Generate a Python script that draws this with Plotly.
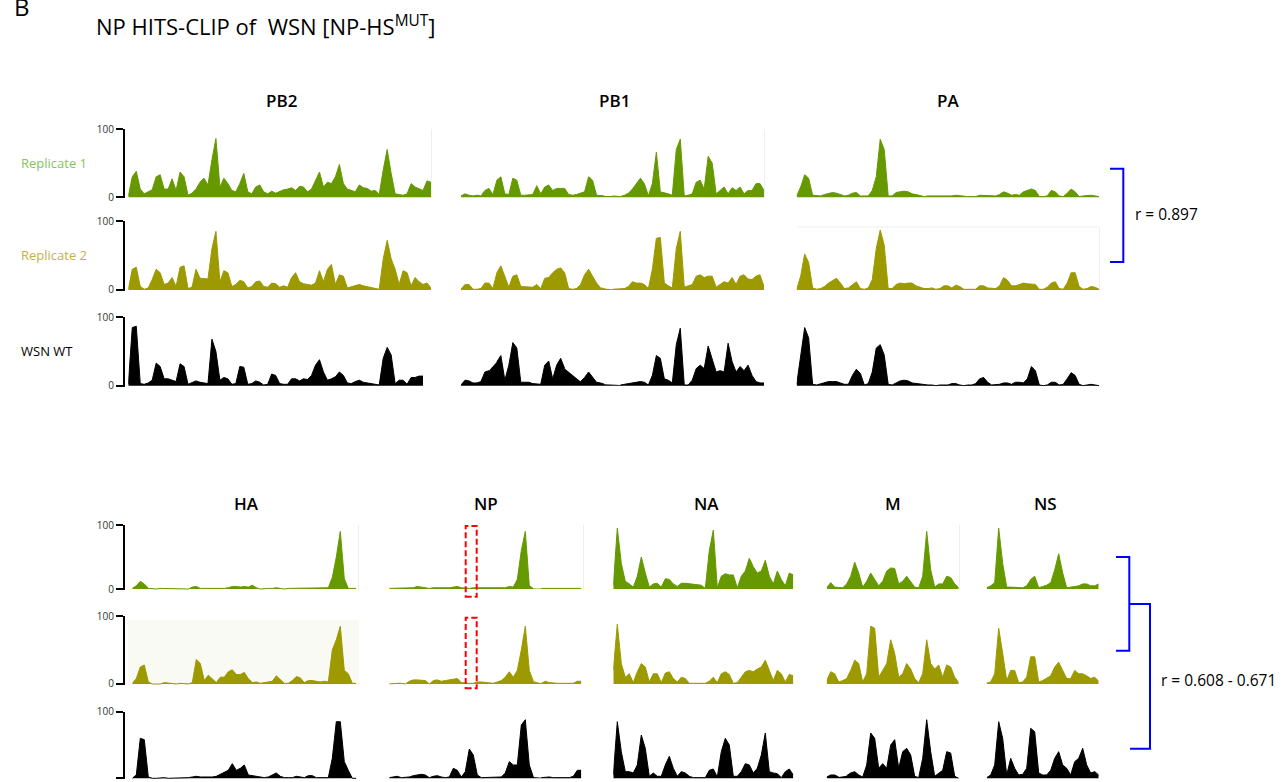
import plotly.graph_objects as go

W, H = 1283, 782

# ---------------- data (coverage, % of max; None = no reads) ----------------
segments_top = ["PB2", "PB1", "PA"]
segments_bottom = ["HA", "NP", "NA", "M", "NS"]
row_labels = ["Replicate 1", "Replicate 2", "WSN WT"]
r_top = "r = 0.897"
r_bottom = "r = 0.608 - 0.671"

PB2_rep1 = [2, 30, 38, 12, 5, 8, 11, 30, 33, 12, 12, 27, 10, 37, 30, 3, 6, 12, 22, 28,
            18, 55, 86, 15, 28, 20, 10, 8, 20, 35, 8, 5, 15, 18, 8, 5, 9, 6, 9, 11,
            12, 14, 10, 16, 15, 8, 12, 25, 37, 15, 22, 20, 30, 48, 20, 12, 10, 8, 18, 14,
            13, 9, 10, 4, 40, 70, 35, 5, 4, 3, 5, 20, 15, 12, 10, 24, 22]
PB2_rep2 = [1, 30, 33, 5, 1, 3, 15, 30, 25, 8, 10, 18, 5, 33, 35, 2, 4, 30, 17, 17,
            16, 60, 85, 12, 28, 25, 5, 8, 14, 12, 3, 5, 12, 13, 5, 4, 10, 9, 4, 6,
            4, 18, 25, 12, 9, 8, 7, 10, 28, 12, 30, 37, 8, 22, 20, 3, 5, 7, 8, 6,
            5, 4, 3, 1, 45, 72, 45, 30, 8, 28, 25, 6, 18, 12, 8, 10, 3]
PB2_wt = [2, 85, 87, 3, 2, 4, 8, 33, 28, 10, 10, 8, 6, 32, 28, 2, 4, 7, 5, 4,
          3, 68, 50, 8, 12, 10, 2, 3, 28, 27, 2, 3, 7, 5, 1, 2, 17, 15, 3, 2,
          2, 10, 10, 7, 10, 9, 15, 30, 38, 20, 8, 10, 13, 20, 15, 4, 3, 6, 8, 5,
          4, 3, 2, 1, 40, 56, 45, 3, 8, 8, 2, 12, 12, 14, 14, None, None]

PB1_rep1 = [2, 5, 3, 2, 3, 2, 10, 13, 4, 25, 30, 5, 4, 28, 25, 3, 3, 3, 4, 17,
            5, 15, 18, 10, 13, 13, 13, 4, 3, 4, 6, 8, 30, 25, 3, 2, 2, None, 2, 2,
            1, 3, 6, 12, 20, 28, 20, 2, 20, 66, 8, 7, 5, 3, 70, 85, 2, 3, 5, 22,
            25, 12, 60, 50, 5, 10, 15, 5, 14, 10, 15, 5, 10, 10, 20, 20, 10]
PB1_rep2 = [1, 8, 8, 1, 1, 2, 10, 10, 2, 25, 35, 18, 4, 20, 22, 5, 5, 4, 4, 8,
            2, 17, 18, 25, 30, 32, 25, 2, 1, 2, 8, 22, 30, 20, 10, 3, 2, None, 1, 1,
            1, 2, 5, 12, 10, 10, 8, 2, 30, 75, 76, 10, 6, 3, 60, 85, 4, 6, 8, 20,
            22, 18, 20, 20, 4, 8, 12, 10, 18, 8, 20, 22, 16, 15, 20, 22, 5]
PB1_wt = [1, 8, 7, 4, 4, 6, 20, 22, None, 35, 44, 8, 30, 63, 55, 5, 5, 5, 3, 2,
          2, 30, 36, 10, 30, 40, 25, None, None, None, 6, 12, 20, 12, 5, 4, 2, None, None, None,
          1, 2, 3, 4, 4, 6, 5, 1, 15, 44, 40, 10, 8, 4, 60, 84, 1, 1, 8, 25,
          30, 25, 58, 40, 20, 22, 20, 62, 35, 20, 28, 22, 30, 15, 6, 4, 4]

PA_rep1 = [2, 15, 33, 28, 3, 2, 2, 4, 6, 7, 6, 4, 2, 3, 6, 7, 2, 2, 2, 10,
           30, 85, 70, 2, 2, 7, 8, 9, 8, 5, 4, 2, 1, 2, 2, 1, 2, 1, 1, 2,
           3, 2, 1, 1, 1, 1, 3, 3, 2, 2, 2, 4, 8, 6, 3, 4, 3, 8, 10, 12,
           10, 1, 1, 2, 10, 8, 2, 1, 6, 12, 8, 1, 2, 3, 3, 2, 1]
PA_rep2 = [1, 20, 52, 40, 3, 1, 2, 5, 10, 14, 17, 10, 2, 3, 8, 12, 2, 1, 3, 15,
           60, 87, 65, 2, 2, 8, 10, 9, 10, 10, 6, 4, 2, 2, 3, 1, 2, 6, 6, 3,
           7, 5, 1, 1, 1, 1, 6, 6, 3, 3, 2, 6, 18, 14, 6, 6, 8, 10, 9, 8,
           8, 1, 1, 4, 10, 12, 2, 1, 10, 25, 25, 5, 1, 2, 5, 4, 1]
PA_wt = [2, 40, 85, 70, 2, 1, 3, 5, 6, 6, 6, 4, 2, 2, 15, 24, 18, 1, 3, 20,
         55, 60, 45, 2, 1, 4, 7, 8, 7, 4, 3, 2, 2, 1, 1, 0, 1, 1, 1, 3,
         3, 1, 0, 1, 1, 3, 10, 12, 5, 1, 1, 2, 4, 4, 2, 5, 5, 4, 10, 28,
         22, 1, 0, 1, 5, 5, 1, 2, 10, 19, 15, 2, 0, 1, 2, 1, 0]

HA_rep1 = [1, 5, 12, 8, 1, 0, 0, 1, 1, 0, 0, 1, 1, 1, 0, 3, 4, 1, 1, 1,
           1, 1, 0, 1, 2, 4, 4, 3, 4, 3, 6, 2, 0, 1, 1, 1, 2, 1, 0, 1,
           1, 2, 1, 1, 1, 1, 1, 1, 1, 2, 18, 50, 90, 16, 1, 1, 1]
HA_rep2 = [1, 8, 25, 28, 3, 0, 0, 0, 2, 1, 0, 0, 1, 0, 0, 2, 36, 30, 5, 13,
           8, 2, 10, 10, 18, 21, 14, 14, 17, 8, 2, 3, 1, 2, 3, 4, 12, 7, 1, 1,
           5, 11, 9, 2, 5, 5, 4, 3, 4, 3, 50, 65, 85, 20, 15, 1, 1]
HA_wt = [0, 5, 60, 58, 2, 0, 0, 1, 1, 0, 0, 1, 1, 1, 1, 2, 3, 2, 2, 1,
         2, 3, 6, 8, 12, 22, 12, 15, 20, 5, 4, 2, 1, 1, 2, 5, 8, 3, 1, 1,
         1, 3, 2, 1, 4, 4, 1, 1, 1, 1, 30, 85, 85, 25, 12, 0, 0]

NP_rep1 = [1, 1, 1, 1, 1, 1, 2, 4, 3, 1, 1, 2, 2, 1, 1, 2, 3, 4, 2, 1,
           1, 2, 2, 1, 1, 1, 1, 1, 1, 2, 4, 3, 15, 60, 90, 5, 1, None, 1, 1,
           1, 1, 1, 1, 1, 1, 1, 1, 1]
NP_rep2 = [0, 1, 1, 1, 0, 4, 6, 6, 6, 5, 0, 5, 6, 4, 5, 6, 7, 8, 2, 1,
           1, 1, 3, 3, 2, 1, 1, 3, 5, 10, 18, 10, 20, 50, 85, 20, 4, None, 1, 4,
           2, 1, 1, 1, 1, 1, 1, 4, 4]
NP_wt = [1, 2, 3, 1, 1, 2, 4, 5, 6, 5, 1, 3, 4, 2, 1, 2, 15, 12, 2, 10,
         44, 35, 5, 1, 1, 1, 1, 1, 2, 8, 25, 20, 20, 80, 88, 20, 2, None, 1, 2,
         2, 1, 1, 1, 1, 1, 3, 12, 12]

NA_rep1 = [5, 95, 40, 12, 8, 3, 20, 50, 25, 3, 8, 9, 3, 16, 15, 8, 4, 9, 9, 8,
           8, 7, 6, 1, 60, 92, 2, 20, 24, 22, 22, 2, 20, 28, 48, 35, 25, 28, 45, 20,
           8, 28, 15, 5, 25, 22]
NA_rep2 = [20, 88, 30, 10, 15, 2, 18, 30, 25, 3, 15, 15, 2, 16, 18, 8, 3, 10, 8, 1,
           1, 1, 1, 1, 4, 10, 2, 15, 18, 14, 1, 2, 10, 18, 20, 18, 22, 25, 35, 20,
           5, 20, 15, 3, 14, 12]
NA_wt = [5, 85, 40, 10, 10, 8, 20, 65, 45, 3, 8, 3, 3, 20, 33, 15, 3, 10, 8, 3,
         1, 1, 1, 1, 12, 14, 2, 40, 60, 50, 3, 3, 10, 22, 20, 8, 15, 35, 68, 10,
         8, 7, 1, 10, 14, 5]

M_rep1 = [2, 10, 3, 2, 2, 8, 20, 42, 25, 3, 12, 25, 15, 5, 12, 28, 33, 32, 8, 12,
          20, 12, 3, 2, 20, 90, 30, 3, 8, 8, 20, 18, 8, 2]
M_rep2 = [5, 18, 15, 3, 5, 8, 20, 35, 30, 3, 15, 85, 82, 10, 20, 30, 65, 45, 10, 15,
          30, 22, 8, 2, 15, 65, 30, 22, 28, 10, 28, 25, 10, 2]
M_wt = [2, 5, 5, 2, None, 4, 8, 10, 5, 2, 20, 68, 60, 15, 22, 15, 50, 58, 15, 40,
        45, 35, 3, 1, 30, 88, 40, 3, 8, 12, 40, 38, 3, 0]

NS_rep1 = [2, 5, 10, 95, 40, 3, 3, 3, 3, 2, 5, 15, 20, 2, 4, 6, 10, 30, 55, 25,
           2, 3, 4, 5, 8, 8, 5, 5, 8]
NS_rep2 = [1, 3, 15, 82, 45, 5, 20, 20, 2, 3, 10, 40, 40, 3, 5, 8, 12, 25, 32, 20,
           8, 8, 20, 15, 15, 12, 8, 10, 4]
NS_wt = [1, 5, 20, 85, 60, 5, 30, 15, 5, 6, 15, 75, 70, 8, 5, 5, 12, 30, 40, 20,
         15, 5, 25, 30, 45, 20, 8, 10, 5]

series = {
    "PB2": (PB2_rep1, PB2_rep2, PB2_wt),
    "PB1": (PB1_rep1, PB1_rep2, PB1_wt),
    "PA": (PA_rep1, PA_rep2, PA_wt),
    "HA": (HA_rep1, HA_rep2, HA_wt),
    "NP": (NP_rep1, NP_rep2, NP_wt),
    "NA": (NA_rep1, NA_rep2, NA_wt),
    "M": (M_rep1, M_rep2, M_wt),
    "NS": (NS_rep1, NS_rep2, NS_wt),
}

# ---------------- layout geometry (pixels) ----------------
col_px = {
    "PB2": (128.3, 431), "PB1": (461, 764), "PA": (796.7, 1099),
    "HA": (132.3, 356.3), "NP": (389.3, 581.3), "NA": (613.3, 793.3),
    "M": (826.7, 958.7), "NS": (986.7, 1098.7),
}
rows_top = [(198.3, 129), (291, 221), (386.7, 317.3)]
rows_bot = [(590, 525), (685, 616), (779.3, 711.7)]
fills = ["#669900", "#9c9a00", "#000000"]
label_colors = ["#86c45a", "#c3b04a", "#000000"]
FONT = "Open Sans, Noto Sans, sans-serif"
AXIS_X = 124


def px(x):
    return x / W


def py(y):
    return 1 - y / H


fig = go.Figure()
layout_axes = {}
k = 0
for segs, rows in [(segments_top, rows_top), (segments_bottom, rows_bot)]:
    for si, seg in enumerate(segs):
        for ri in range(3):
            k += 1
            sfx = "" if k == 1 else str(k)
            vals = series[seg][ri]
            fig.add_trace(go.Scatter(
                x=list(range(len(vals))), y=vals, mode="lines", fill="tozeroy",
                line=dict(color=fills[ri], width=1), fillcolor=fills[ri],
                connectgaps=False, hoverinfo="skip", showlegend=False,
                xaxis="x" + sfx, yaxis="y" + sfx))
            x0, x1 = col_px[seg]
            y0, y1 = rows[ri]
            layout_axes["xaxis" + sfx] = dict(
                domain=[px(x0), px(x1)], range=[0, len(vals) - 1],
                visible=False, anchor="y" + sfx, fixedrange=True)
            ya = dict(domain=[py(y0), py(y1)], range=[-1.5, 100], fixedrange=True,
                      showgrid=False, zeroline=False)
            if si == 0:
                ya.update(visible=True, anchor="free", position=px(AXIS_X),
                          showline=True, linecolor="black", linewidth=2,
                          ticks="outside", tickvals=[0, 100], ticklen=7,
                          tickwidth=2, tickcolor="black",
                          tickfont=dict(family=FONT, size=10, color="#333333"))
            else:
                ya.update(visible=False, anchor="x" + sfx)
            layout_axes["yaxis" + sfx] = ya

fig.update_layout(**layout_axes)

annotations = []


def ann(text, x, y, size, color="black", xanchor="center", weight=400):
    annotations.append(dict(text=text, x=px(x), y=py(y), xref="paper", yref="paper",
                            xanchor=xanchor, yanchor="middle", showarrow=False,
                            font=dict(family=FONT, size=size, color=color, weight=weight)))


ann("B", 12, 6, 24, xanchor="left")
ann("NP HITS-CLIP of  WSN [NP-HS<sup>MUT</sup>]", 94, 25, 22, xanchor="left")

title_pos = {"PB2": (281, 101), "PB1": (614, 101), "PA": (948, 101),
             "HA": (246, 503), "NP": (486, 503), "NA": (706, 503),
             "M": (893, 503), "NS": (1045, 503)}
for seg, (tx, ty) in title_pos.items():
    ann(seg, tx, ty, 17, weight=600)

for ri, (lab, ly) in enumerate(zip(row_labels, [163, 255, 351])):
    ann(lab, 19, ly, 13, color=label_colors[ri], xanchor="left")

ann(r_top, 1133, 214, 15.5, xanchor="left")
ann(r_bottom, 1159, 680, 15.5, xanchor="left")

shapes = []
BLUE = "#0000ff"


def path(points, color, width=2):
    d = "M " + " L ".join(f"{px(x):.5f},{py(y):.5f}" for x, y in points)
    shapes.append(dict(type="path", path=d, xref="paper", yref="paper",
                       line=dict(color=color, width=width)))


# correlation brackets
path([(1110, 168.7), (1123.3, 168.7), (1123.3, 262), (1110, 262)], BLUE)
path([(1116, 557), (1129.3, 557), (1129.3, 650.7), (1116, 650.7)], BLUE)
path([(1129.3, 604), (1150, 604), (1150, 748.7), (1130, 748.7)], BLUE)

# red dashed boxes (NP-HS mutated region)
for (ya_, yb_) in [(526, 596.7), (617.7, 688.3)]:
    shapes.append(dict(type="rect", xref="paper", yref="paper",
                       x0=px(465.7), x1=px(476.7), y0=py(yb_), y1=py(ya_),
                       line=dict(color="#ff0000", width=2, dash="6px,3px")))

# faint panel frame remnants and tinted background
shapes.append(dict(type="rect", xref="paper", yref="paper", layer="below",
                   x0=px(128), x1=px(359), y0=py(685), y1=py(620),
                   fillcolor="#fafaf5", line=dict(width=0)))
for (xx, ya_, yb_) in [(431.5, 129, 198), (764.5, 129, 198), (1099.5, 227, 291),
                       (358.5, 525, 590), (583.5, 525, 590), (959.5, 525, 590)]:
    shapes.append(dict(type="line", xref="paper", yref="paper", layer="below",
                       x0=px(xx), x1=px(xx), y0=py(yb_), y1=py(ya_),
                       line=dict(color="#eeeeee", width=1)))
shapes.append(dict(type="line", xref="paper", yref="paper", layer="below",
                   x0=px(797), x1=px(1099.5), y0=py(227), y1=py(227),
                   line=dict(color="#eeeeee", width=1)))

fig.update_layout(
    width=W, height=H, margin=dict(l=0, r=0, t=0, b=0),
    paper_bgcolor="white", plot_bgcolor="rgba(0,0,0,0)",
    template="none", showlegend=False,
    annotations=annotations, shapes=shapes,
    font=dict(family=FONT),
)

fig.write_html("out.html", config={"displayModeBar": False},
               post_script="document.body.style.margin='0';document.body.style.overflow='hidden';")
